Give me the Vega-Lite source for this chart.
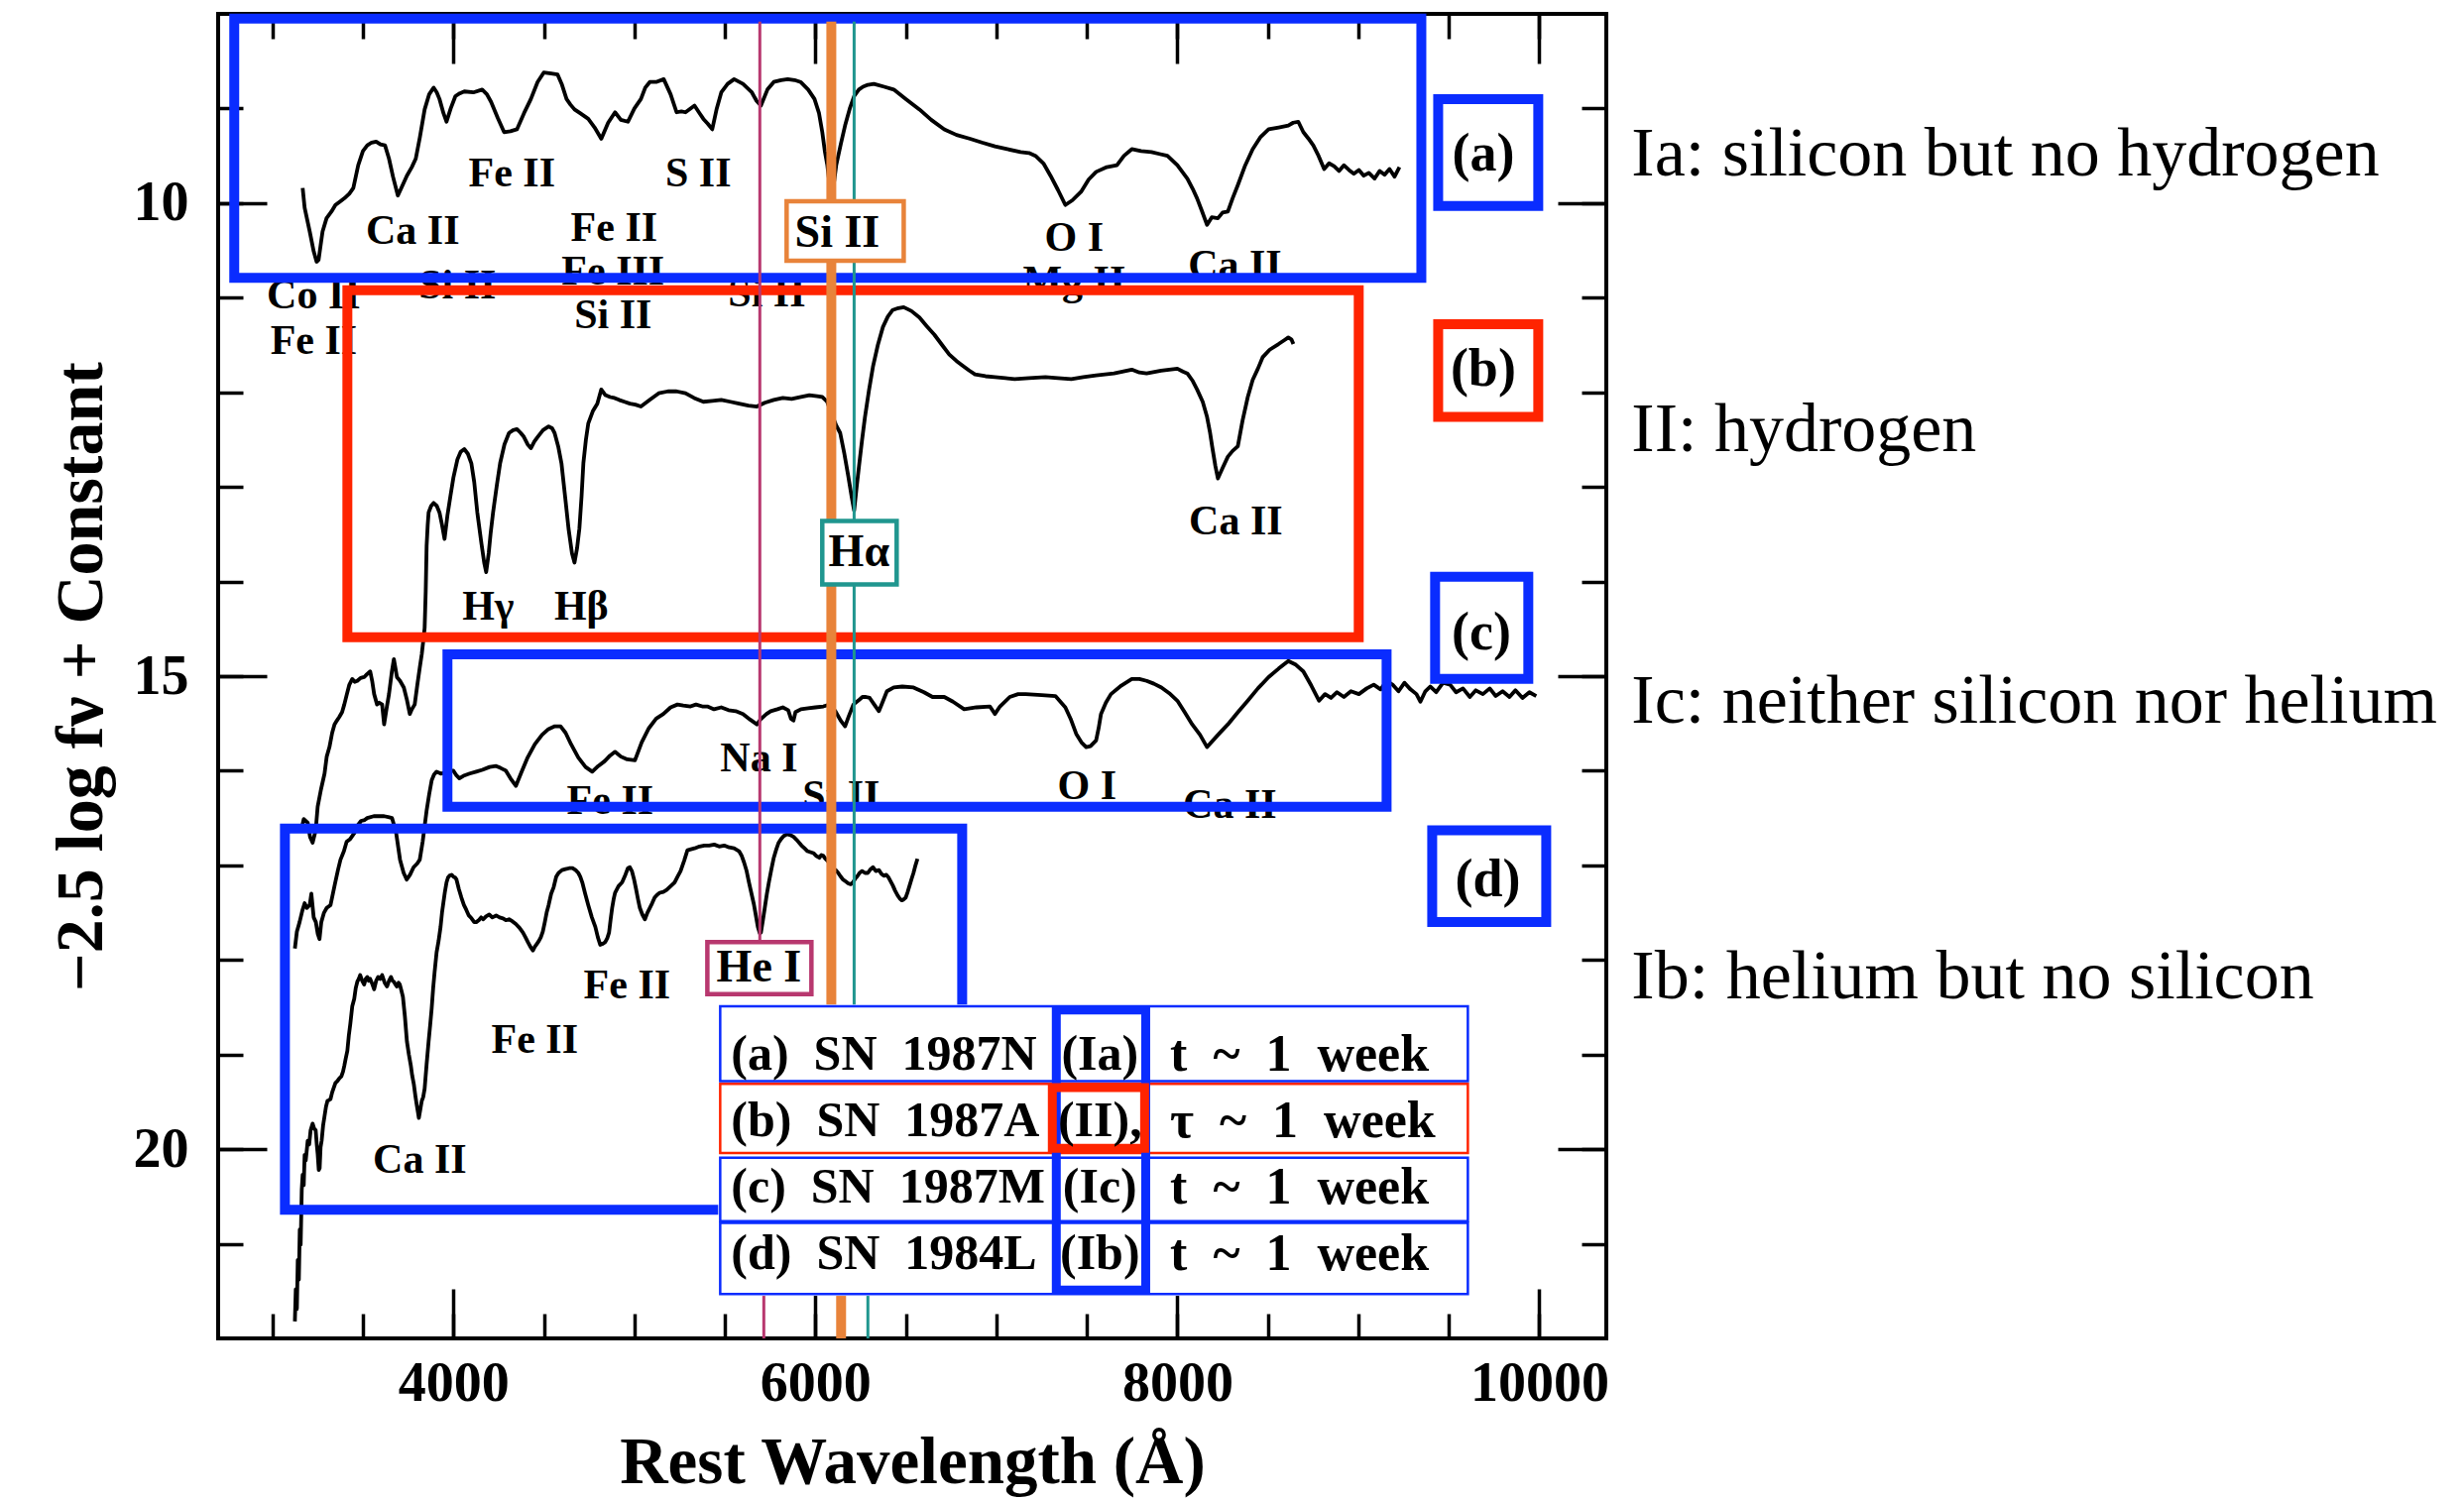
{
  "$schema": "https://vega.github.io/schema/vega-lite/v6.json",
  "width": 1400,
  "height": 1336,
  "autosize": {"type": "none"},
  "padding": {"left": 220, "top": 14, "right": 865, "bottom": 163},
  "background": "#ffffff",
  "config": {
    "view": {"stroke": "#000000", "strokeWidth": 4},
    "axis": {
      "grid": false, "domain": false, "tickColor": "#000000", "tickWidth": 3.5,
      "labelColor": "#000000", "titleColor": "#000000",
      "labelFont": "Liberation Serif", "titleFont": "Liberation Serif",
      "labelFontWeight": "bold", "titleFontWeight": "bold"
    },
    "text": {"font": "Liberation Serif"}
  },
  "resolve": {
    "axis": {"x": "independent", "y": "independent"},
    "scale": {"stroke": "independent", "color": "independent"}
  },
  "datasets": {
    "spectra": [
      {"sn":"a","wl":3167,"mag":9.84},{"sn":"a","wl":3178,"mag":10.05},{"sn":"a","wl":3206,"mag":10.30},{"sn":"a","wl":3228,"mag":10.51},{"sn":"a","wl":3244,"mag":10.62},{"sn":"a","wl":3255,"mag":10.60},{"sn":"a","wl":3266,"mag":10.45},{"sn":"a","wl":3277,"mag":10.30},{"sn":"a","wl":3299,"mag":10.16},{"sn":"a","wl":3326,"mag":10.09},{"sn":"a","wl":3348,"mag":10.02},{"sn":"a","wl":3376,"mag":9.98},{"sn":"a","wl":3397,"mag":9.95},{"sn":"a","wl":3425,"mag":9.90},{"sn":"a","wl":3447,"mag":9.84},{"sn":"a","wl":3474,"mag":9.60},{"sn":"a","wl":3500,"mag":9.45},{"sn":"a","wl":3524,"mag":9.39},{"sn":"a","wl":3548,"mag":9.36},{"sn":"a","wl":3573,"mag":9.35},{"sn":"a","wl":3597,"mag":9.38},{"sn":"a","wl":3622,"mag":9.39},{"sn":"a","wl":3644,"mag":9.53},{"sn":"a","wl":3666,"mag":9.72},{"sn":"a","wl":3693,"mag":9.92},{"sn":"a","wl":3710,"mag":9.85},{"sn":"a","wl":3743,"mag":9.71},{"sn":"a","wl":3770,"mag":9.62},{"sn":"a","wl":3792,"mag":9.53},{"sn":"a","wl":3815,"mag":9.30},{"sn":"a","wl":3841,"mag":9.01},{"sn":"a","wl":3866,"mag":8.85},{"sn":"a","wl":3891,"mag":8.78},{"sn":"a","wl":3908,"mag":8.83},{"sn":"a","wl":3923,"mag":8.90},{"sn":"a","wl":3945,"mag":9.05},{"sn":"a","wl":3962,"mag":9.14},{"sn":"a","wl":3985,"mag":9.00},{"sn":"a","wl":4011,"mag":8.87},{"sn":"a","wl":4035,"mag":8.84},{"sn":"a","wl":4060,"mag":8.82},{"sn":"a","wl":4110,"mag":8.83},{"sn":"a","wl":4159,"mag":8.80},{"sn":"a","wl":4185,"mag":8.85},{"sn":"a","wl":4208,"mag":8.93},{"sn":"a","wl":4245,"mag":9.10},{"sn":"a","wl":4280,"mag":9.25},{"sn":"a","wl":4315,"mag":9.24},{"sn":"a","wl":4351,"mag":9.22},{"sn":"a","wl":4390,"mag":9.05},{"sn":"a","wl":4428,"mag":8.90},{"sn":"a","wl":4465,"mag":8.72},{"sn":"a","wl":4499,"mag":8.62},{"sn":"a","wl":4540,"mag":8.63},{"sn":"a","wl":4575,"mag":8.64},{"sn":"a","wl":4600,"mag":8.75},{"sn":"a","wl":4625,"mag":8.90},{"sn":"a","wl":4647,"mag":8.96},{"sn":"a","wl":4669,"mag":9.01},{"sn":"a","wl":4700,"mag":9.05},{"sn":"a","wl":4745,"mag":9.11},{"sn":"a","wl":4780,"mag":9.20},{"sn":"a","wl":4817,"mag":9.32},{"sn":"a","wl":4855,"mag":9.15},{"sn":"a","wl":4893,"mag":9.04},{"sn":"a","wl":4925,"mag":9.12},{"sn":"a","wl":4964,"mag":9.14},{"sn":"a","wl":5000,"mag":9.00},{"sn":"a","wl":5036,"mag":8.90},{"sn":"a","wl":5060,"mag":8.78},{"sn":"a","wl":5085,"mag":8.72},{"sn":"a","wl":5120,"mag":8.72},{"sn":"a","wl":5162,"mag":8.69},{"sn":"a","wl":5200,"mag":8.85},{"sn":"a","wl":5233,"mag":9.04},{"sn":"a","wl":5260,"mag":9.03},{"sn":"a","wl":5282,"mag":9.04},{"sn":"a","wl":5310,"mag":9.00},{"sn":"a","wl":5332,"mag":8.97},{"sn":"a","wl":5360,"mag":9.05},{"sn":"a","wl":5381,"mag":9.11},{"sn":"a","wl":5405,"mag":9.16},{"sn":"a","wl":5430,"mag":9.22},{"sn":"a","wl":5455,"mag":9.00},{"sn":"a","wl":5480,"mag":8.83},{"sn":"a","wl":5515,"mag":8.74},{"sn":"a","wl":5551,"mag":8.69},{"sn":"a","wl":5600,"mag":8.74},{"sn":"a","wl":5649,"mag":8.83},{"sn":"a","wl":5675,"mag":8.92},{"sn":"a","wl":5699,"mag":8.97},{"sn":"a","wl":5735,"mag":8.80},{"sn":"a","wl":5770,"mag":8.72},{"sn":"a","wl":5810,"mag":8.70},{"sn":"a","wl":5847,"mag":8.69},{"sn":"a","wl":5885,"mag":8.70},{"sn":"a","wl":5918,"mag":8.72},{"sn":"a","wl":5960,"mag":8.80},{"sn":"a","wl":5995,"mag":8.90},{"sn":"a","wl":6020,"mag":9.05},{"sn":"a","wl":6038,"mag":9.25},{"sn":"a","wl":6052,"mag":9.45},{"sn":"a","wl":6066,"mag":9.60},{"sn":"a","wl":6078,"mag":9.80},{"sn":"a","wl":6088,"mag":9.92},{"sn":"a","wl":6100,"mag":9.82},{"sn":"a","wl":6115,"mag":9.60},{"sn":"a","wl":6140,"mag":9.38},{"sn":"a","wl":6164,"mag":9.18},{"sn":"a","wl":6190,"mag":9.00},{"sn":"a","wl":6214,"mag":8.87},{"sn":"a","wl":6240,"mag":8.80},{"sn":"a","wl":6263,"mag":8.77},{"sn":"a","wl":6290,"mag":8.75},{"sn":"a","wl":6323,"mag":8.74},{"sn":"a","wl":6380,"mag":8.77},{"sn":"a","wl":6433,"mag":8.80},{"sn":"a","wl":6500,"mag":8.90},{"sn":"a","wl":6575,"mag":9.01},{"sn":"a","wl":6640,"mag":9.12},{"sn":"a","wl":6712,"mag":9.22},{"sn":"a","wl":6780,"mag":9.28},{"sn":"a","wl":6855,"mag":9.32},{"sn":"a","wl":6920,"mag":9.36},{"sn":"a","wl":6992,"mag":9.40},{"sn":"a","wl":7060,"mag":9.43},{"sn":"a","wl":7134,"mag":9.46},{"sn":"a","wl":7180,"mag":9.47},{"sn":"a","wl":7216,"mag":9.50},{"sn":"a","wl":7260,"mag":9.58},{"sn":"a","wl":7299,"mag":9.71},{"sn":"a","wl":7340,"mag":9.86},{"sn":"a","wl":7381,"mag":10.02},{"sn":"a","wl":7420,"mag":9.97},{"sn":"a","wl":7468,"mag":9.88},{"sn":"a","wl":7510,"mag":9.75},{"sn":"a","wl":7551,"mag":9.67},{"sn":"a","wl":7610,"mag":9.62},{"sn":"a","wl":7666,"mag":9.60},{"sn":"a","wl":7705,"mag":9.50},{"sn":"a","wl":7748,"mag":9.43},{"sn":"a","wl":7800,"mag":9.45},{"sn":"a","wl":7857,"mag":9.46},{"sn":"a","wl":7900,"mag":9.48},{"sn":"a","wl":7945,"mag":9.50},{"sn":"a","wl":8000,"mag":9.60},{"sn":"a","wl":8055,"mag":9.74},{"sn":"a","wl":8085,"mag":9.85},{"sn":"a","wl":8109,"mag":9.95},{"sn":"a","wl":8135,"mag":10.08},{"sn":"a","wl":8164,"mag":10.23},{"sn":"a","wl":8190,"mag":10.15},{"sn":"a","wl":8224,"mag":10.16},{"sn":"a","wl":8250,"mag":10.10},{"sn":"a","wl":8279,"mag":10.09},{"sn":"a","wl":8305,"mag":9.95},{"sn":"a","wl":8334,"mag":9.81},{"sn":"a","wl":8375,"mag":9.60},{"sn":"a","wl":8416,"mag":9.43},{"sn":"a","wl":8460,"mag":9.30},{"sn":"a","wl":8504,"mag":9.22},{"sn":"a","wl":8560,"mag":9.20},{"sn":"a","wl":8613,"mag":9.18},{"sn":"a","wl":8640,"mag":9.15},{"sn":"a","wl":8668,"mag":9.14},{"sn":"a","wl":8696,"mag":9.25},{"sn":"a","wl":8725,"mag":9.32},{"sn":"a","wl":8751,"mag":9.39},{"sn":"a","wl":8780,"mag":9.50},{"sn":"a","wl":8811,"mag":9.64},{"sn":"a","wl":8838,"mag":9.58},{"sn":"a","wl":8866,"mag":9.61},{"sn":"a","wl":8893,"mag":9.66},{"sn":"a","wl":8920,"mag":9.60},{"sn":"a","wl":8948,"mag":9.65},{"sn":"a","wl":8975,"mag":9.69},{"sn":"a","wl":9003,"mag":9.65},{"sn":"a","wl":9030,"mag":9.71},{"sn":"a","wl":9058,"mag":9.68},{"sn":"a","wl":9090,"mag":9.74},{"sn":"a","wl":9118,"mag":9.66},{"sn":"a","wl":9145,"mag":9.70},{"sn":"a","wl":9172,"mag":9.64},{"sn":"a","wl":9200,"mag":9.72},{"sn":"a","wl":9227,"mag":9.62},

      {"sn":"b","wl":3160,"mag":16.62},{"sn":"b","wl":3173,"mag":16.51},{"sn":"b","wl":3195,"mag":16.55},{"sn":"b","wl":3208,"mag":16.70},{"sn":"b","wl":3222,"mag":16.76},{"sn":"b","wl":3239,"mag":16.63},{"sn":"b","wl":3250,"mag":16.38},{"sn":"b","wl":3268,"mag":16.20},{"sn":"b","wl":3288,"mag":16.03},{"sn":"b","wl":3300,"mag":15.85},{"sn":"b","wl":3315,"mag":15.75},{"sn":"b","wl":3330,"mag":15.60},{"sn":"b","wl":3343,"mag":15.51},{"sn":"b","wl":3356,"mag":15.47},{"sn":"b","wl":3370,"mag":15.43},{"sn":"b","wl":3385,"mag":15.38},{"sn":"b","wl":3397,"mag":15.30},{"sn":"b","wl":3410,"mag":15.20},{"sn":"b","wl":3425,"mag":15.09},{"sn":"b","wl":3441,"mag":15.03},{"sn":"b","wl":3455,"mag":15.06},{"sn":"b","wl":3469,"mag":15.05},{"sn":"b","wl":3487,"mag":15.02},{"sn":"b","wl":3507,"mag":15.01},{"sn":"b","wl":3522,"mag":14.98},{"sn":"b","wl":3540,"mag":14.95},{"sn":"b","wl":3551,"mag":15.05},{"sn":"b","wl":3562,"mag":15.19},{"sn":"b","wl":3578,"mag":15.30},{"sn":"b","wl":3590,"mag":15.28},{"sn":"b","wl":3606,"mag":15.30},{"sn":"b","wl":3617,"mag":15.51},{"sn":"b","wl":3630,"mag":15.35},{"sn":"b","wl":3644,"mag":15.19},{"sn":"b","wl":3660,"mag":14.95},{"sn":"b","wl":3671,"mag":14.82},{"sn":"b","wl":3680,"mag":14.92},{"sn":"b","wl":3688,"mag":15.01},{"sn":"b","wl":3705,"mag":15.05},{"sn":"b","wl":3726,"mag":15.12},{"sn":"b","wl":3743,"mag":15.25},{"sn":"b","wl":3759,"mag":15.40},{"sn":"b","wl":3770,"mag":15.35},{"sn":"b","wl":3786,"mag":15.30},{"sn":"b","wl":3800,"mag":15.10},{"sn":"b","wl":3814,"mag":14.91},{"sn":"b","wl":3825,"mag":14.77},{"sn":"b","wl":3835,"mag":14.60},{"sn":"b","wl":3841,"mag":14.49},{"sn":"b","wl":3847,"mag":14.10},{"sn":"b","wl":3852,"mag":13.62},{"sn":"b","wl":3858,"mag":13.40},{"sn":"b","wl":3863,"mag":13.27},{"sn":"b","wl":3877,"mag":13.20},{"sn":"b","wl":3891,"mag":13.17},{"sn":"b","wl":3908,"mag":13.20},{"sn":"b","wl":3923,"mag":13.27},{"sn":"b","wl":3937,"mag":13.40},{"sn":"b","wl":3951,"mag":13.55},{"sn":"b","wl":3967,"mag":13.30},{"sn":"b","wl":3984,"mag":13.09},{"sn":"b","wl":4000,"mag":12.90},{"sn":"b","wl":4022,"mag":12.71},{"sn":"b","wl":4040,"mag":12.63},{"sn":"b","wl":4060,"mag":12.60},{"sn":"b","wl":4080,"mag":12.65},{"sn":"b","wl":4099,"mag":12.75},{"sn":"b","wl":4115,"mag":12.95},{"sn":"b","wl":4132,"mag":13.27},{"sn":"b","wl":4155,"mag":13.60},{"sn":"b","wl":4170,"mag":13.80},{"sn":"b","wl":4181,"mag":13.90},{"sn":"b","wl":4195,"mag":13.70},{"sn":"b","wl":4205,"mag":13.50},{"sn":"b","wl":4219,"mag":13.27},{"sn":"b","wl":4240,"mag":12.98},{"sn":"b","wl":4258,"mag":12.75},{"sn":"b","wl":4282,"mag":12.55},{"sn":"b","wl":4307,"mag":12.43},{"sn":"b","wl":4330,"mag":12.40},{"sn":"b","wl":4351,"mag":12.39},{"sn":"b","wl":4372,"mag":12.43},{"sn":"b","wl":4389,"mag":12.47},{"sn":"b","wl":4410,"mag":12.55},{"sn":"b","wl":4428,"mag":12.59},{"sn":"b","wl":4447,"mag":12.52},{"sn":"b","wl":4466,"mag":12.47},{"sn":"b","wl":4495,"mag":12.40},{"sn":"b","wl":4526,"mag":12.36},{"sn":"b","wl":4545,"mag":12.38},{"sn":"b","wl":4559,"mag":12.43},{"sn":"b","wl":4580,"mag":12.58},{"sn":"b","wl":4597,"mag":12.75},{"sn":"b","wl":4617,"mag":13.10},{"sn":"b","wl":4636,"mag":13.44},{"sn":"b","wl":4655,"mag":13.70},{"sn":"b","wl":4669,"mag":13.80},{"sn":"b","wl":4683,"mag":13.65},{"sn":"b","wl":4696,"mag":13.44},{"sn":"b","wl":4708,"mag":13.10},{"sn":"b","wl":4718,"mag":12.75},{"sn":"b","wl":4732,"mag":12.50},{"sn":"b","wl":4745,"mag":12.33},{"sn":"b","wl":4770,"mag":12.20},{"sn":"b","wl":4795,"mag":12.12},{"sn":"b","wl":4817,"mag":11.97},{"sn":"b","wl":4840,"mag":12.03},{"sn":"b","wl":4866,"mag":12.05},{"sn":"b","wl":4890,"mag":12.06},{"sn":"b","wl":4915,"mag":12.08},{"sn":"b","wl":4945,"mag":12.10},{"sn":"b","wl":4975,"mag":12.12},{"sn":"b","wl":5005,"mag":12.13},{"sn":"b","wl":5036,"mag":12.15},{"sn":"b","wl":5085,"mag":12.08},{"sn":"b","wl":5134,"mag":12.01},{"sn":"b","wl":5185,"mag":11.99},{"sn":"b","wl":5233,"mag":11.99},{"sn":"b","wl":5282,"mag":12.01},{"sn":"b","wl":5330,"mag":12.06},{"sn":"b","wl":5381,"mag":12.10},{"sn":"b","wl":5430,"mag":12.09},{"sn":"b","wl":5480,"mag":12.08},{"sn":"b","wl":5530,"mag":12.10},{"sn":"b","wl":5578,"mag":12.12},{"sn":"b","wl":5630,"mag":12.14},{"sn":"b","wl":5677,"mag":12.15},{"sn":"b","wl":5720,"mag":12.11},{"sn":"b","wl":5770,"mag":12.08},{"sn":"b","wl":5820,"mag":12.06},{"sn":"b","wl":5869,"mag":12.07},{"sn":"b","wl":5920,"mag":12.05},{"sn":"b","wl":5967,"mag":12.03},{"sn":"b","wl":6010,"mag":12.04},{"sn":"b","wl":6038,"mag":12.05},{"sn":"b","wl":6065,"mag":12.10},{"sn":"b","wl":6088,"mag":12.22},{"sn":"b","wl":6115,"mag":12.35},{"sn":"b","wl":6137,"mag":12.43},{"sn":"b","wl":6160,"mag":12.65},{"sn":"b","wl":6181,"mag":12.88},{"sn":"b","wl":6200,"mag":13.10},{"sn":"b","wl":6214,"mag":13.25},{"sn":"b","wl":6228,"mag":13.00},{"sn":"b","wl":6241,"mag":12.78},{"sn":"b","wl":6258,"mag":12.50},{"sn":"b","wl":6274,"mag":12.26},{"sn":"b","wl":6296,"mag":11.98},{"sn":"b","wl":6318,"mag":11.73},{"sn":"b","wl":6345,"mag":11.50},{"sn":"b","wl":6373,"mag":11.31},{"sn":"b","wl":6400,"mag":11.20},{"sn":"b","wl":6427,"mag":11.13},{"sn":"b","wl":6458,"mag":11.11},{"sn":"b","wl":6488,"mag":11.10},{"sn":"b","wl":6530,"mag":11.14},{"sn":"b","wl":6575,"mag":11.21},{"sn":"b","wl":6615,"mag":11.30},{"sn":"b","wl":6657,"mag":11.39},{"sn":"b","wl":6700,"mag":11.50},{"sn":"b","wl":6740,"mag":11.60},{"sn":"b","wl":6780,"mag":11.67},{"sn":"b","wl":6822,"mag":11.73},{"sn":"b","wl":6850,"mag":11.77},{"sn":"b","wl":6882,"mag":11.81},{"sn":"b","wl":6940,"mag":11.83},{"sn":"b","wl":6992,"mag":11.84},{"sn":"b","wl":7050,"mag":11.85},{"sn":"b","wl":7101,"mag":11.86},{"sn":"b","wl":7180,"mag":11.85},{"sn":"b","wl":7271,"mag":11.84},{"sn":"b","wl":7340,"mag":11.85},{"sn":"b","wl":7414,"mag":11.86},{"sn":"b","wl":7480,"mag":11.84},{"sn":"b","wl":7551,"mag":11.82},{"sn":"b","wl":7650,"mag":11.80},{"sn":"b","wl":7748,"mag":11.76},{"sn":"b","wl":7790,"mag":11.79},{"sn":"b","wl":7830,"mag":11.80},{"sn":"b","wl":7910,"mag":11.77},{"sn":"b","wl":8000,"mag":11.75},{"sn":"b","wl":8030,"mag":11.78},{"sn":"b","wl":8055,"mag":11.80},{"sn":"b","wl":8085,"mag":11.88},{"sn":"b","wl":8109,"mag":11.97},{"sn":"b","wl":8140,"mag":12.10},{"sn":"b","wl":8164,"mag":12.26},{"sn":"b","wl":8180,"mag":12.42},{"sn":"b","wl":8192,"mag":12.57},{"sn":"b","wl":8210,"mag":12.78},{"sn":"b","wl":8224,"mag":12.91},{"sn":"b","wl":8250,"mag":12.80},{"sn":"b","wl":8279,"mag":12.68},{"sn":"b","wl":8305,"mag":12.62},{"sn":"b","wl":8334,"mag":12.57},{"sn":"b","wl":8360,"mag":12.30},{"sn":"b","wl":8389,"mag":12.05},{"sn":"b","wl":8416,"mag":11.87},{"sn":"b","wl":8445,"mag":11.75},{"sn":"b","wl":8471,"mag":11.63},{"sn":"b","wl":8510,"mag":11.55},{"sn":"b","wl":8559,"mag":11.49},{"sn":"b","wl":8590,"mag":11.45},{"sn":"b","wl":8613,"mag":11.42},{"sn":"b","wl":8630,"mag":11.44},{"sn":"b","wl":8641,"mag":11.49},

      {"sn":"c","wl":3124,"mag":17.88},{"sn":"c","wl":3135,"mag":17.70},{"sn":"c","wl":3150,"mag":17.60},{"sn":"c","wl":3165,"mag":17.48},{"sn":"c","wl":3178,"mag":17.40},{"sn":"c","wl":3190,"mag":17.45},{"sn":"c","wl":3206,"mag":17.42},{"sn":"c","wl":3215,"mag":17.30},{"sn":"c","wl":3228,"mag":17.55},{"sn":"c","wl":3240,"mag":17.60},{"sn":"c","wl":3250,"mag":17.72},{"sn":"c","wl":3260,"mag":17.78},{"sn":"c","wl":3270,"mag":17.60},{"sn":"c","wl":3285,"mag":17.50},{"sn":"c","wl":3300,"mag":17.45},{"sn":"c","wl":3321,"mag":17.42},{"sn":"c","wl":3345,"mag":17.20},{"sn":"c","wl":3362,"mag":17.05},{"sn":"c","wl":3376,"mag":16.94},{"sn":"c","wl":3395,"mag":16.85},{"sn":"c","wl":3410,"mag":16.75},{"sn":"c","wl":3430,"mag":16.72},{"sn":"c","wl":3452,"mag":16.66},{"sn":"c","wl":3470,"mag":16.58},{"sn":"c","wl":3490,"mag":16.53},{"sn":"c","wl":3510,"mag":16.52},{"sn":"c","wl":3524,"mag":16.50},{"sn":"c","wl":3560,"mag":16.48},{"sn":"c","wl":3590,"mag":16.48},{"sn":"c","wl":3617,"mag":16.48},{"sn":"c","wl":3640,"mag":16.49},{"sn":"c","wl":3661,"mag":16.50},{"sn":"c","wl":3683,"mag":16.65},{"sn":"c","wl":3705,"mag":16.94},{"sn":"c","wl":3725,"mag":17.08},{"sn":"c","wl":3742,"mag":17.15},{"sn":"c","wl":3760,"mag":17.10},{"sn":"c","wl":3780,"mag":17.02},{"sn":"c","wl":3800,"mag":16.98},{"sn":"c","wl":3814,"mag":16.94},{"sn":"c","wl":3830,"mag":16.75},{"sn":"c","wl":3852,"mag":16.42},{"sn":"c","wl":3866,"mag":16.25},{"sn":"c","wl":3880,"mag":16.10},{"sn":"c","wl":3893,"mag":16.04},{"sn":"c","wl":3907,"mag":16.01},{"sn":"c","wl":3930,"mag":16.03},{"sn":"c","wl":3955,"mag":16.02},{"sn":"c","wl":3975,"mag":16.00},{"sn":"c","wl":4000,"mag":16.00},{"sn":"c","wl":4017,"mag":16.05},{"sn":"c","wl":4033,"mag":16.08},{"sn":"c","wl":4060,"mag":16.05},{"sn":"c","wl":4090,"mag":16.03},{"sn":"c","wl":4126,"mag":16.01},{"sn":"c","wl":4160,"mag":15.99},{"sn":"c","wl":4200,"mag":15.96},{"sn":"c","wl":4236,"mag":15.95},{"sn":"c","wl":4260,"mag":15.97},{"sn":"c","wl":4290,"mag":16.00},{"sn":"c","wl":4315,"mag":16.08},{"sn":"c","wl":4345,"mag":16.16},{"sn":"c","wl":4375,"mag":16.02},{"sn":"c","wl":4410,"mag":15.86},{"sn":"c","wl":4450,"mag":15.72},{"sn":"c","wl":4490,"mag":15.62},{"sn":"c","wl":4525,"mag":15.56},{"sn":"c","wl":4560,"mag":15.53},{"sn":"c","wl":4592,"mag":15.53},{"sn":"c","wl":4620,"mag":15.60},{"sn":"c","wl":4650,"mag":15.72},{"sn":"c","wl":4690,"mag":15.86},{"sn":"c","wl":4730,"mag":15.96},{"sn":"c","wl":4767,"mag":16.01},{"sn":"c","wl":4800,"mag":15.95},{"sn":"c","wl":4835,"mag":15.90},{"sn":"c","wl":4865,"mag":15.84},{"sn":"c","wl":4893,"mag":15.80},{"sn":"c","wl":4925,"mag":15.85},{"sn":"c","wl":4960,"mag":15.88},{"sn":"c","wl":5003,"mag":15.89},{"sn":"c","wl":5040,"mag":15.70},{"sn":"c","wl":5080,"mag":15.55},{"sn":"c","wl":5120,"mag":15.45},{"sn":"c","wl":5160,"mag":15.40},{"sn":"c","wl":5200,"mag":15.33},{"sn":"c","wl":5238,"mag":15.30},{"sn":"c","wl":5270,"mag":15.31},{"sn":"c","wl":5310,"mag":15.32},{"sn":"c","wl":5340,"mag":15.30},{"sn":"c","wl":5375,"mag":15.32},{"sn":"c","wl":5403,"mag":15.32},{"sn":"c","wl":5440,"mag":15.35},{"sn":"c","wl":5480,"mag":15.33},{"sn":"c","wl":5520,"mag":15.36},{"sn":"c","wl":5560,"mag":15.37},{"sn":"c","wl":5600,"mag":15.40},{"sn":"c","wl":5640,"mag":15.46},{"sn":"c","wl":5677,"mag":15.51},{"sn":"c","wl":5700,"mag":15.45},{"sn":"c","wl":5730,"mag":15.40},{"sn":"c","wl":5753,"mag":15.37},{"sn":"c","wl":5790,"mag":15.35},{"sn":"c","wl":5820,"mag":15.33},{"sn":"c","wl":5850,"mag":15.36},{"sn":"c","wl":5865,"mag":15.45},{"sn":"c","wl":5879,"mag":15.47},{"sn":"c","wl":5890,"mag":15.38},{"sn":"c","wl":5920,"mag":15.35},{"sn":"c","wl":5960,"mag":15.34},{"sn":"c","wl":6000,"mag":15.33},{"sn":"c","wl":6044,"mag":15.32},{"sn":"c","wl":6080,"mag":15.30},{"sn":"c","wl":6110,"mag":15.37},{"sn":"c","wl":6140,"mag":15.47},{"sn":"c","wl":6164,"mag":15.53},{"sn":"c","wl":6185,"mag":15.42},{"sn":"c","wl":6210,"mag":15.30},{"sn":"c","wl":6236,"mag":15.26},{"sn":"c","wl":6260,"mag":15.22},{"sn":"c","wl":6279,"mag":15.22},{"sn":"c","wl":6300,"mag":15.23},{"sn":"c","wl":6325,"mag":15.30},{"sn":"c","wl":6351,"mag":15.37},{"sn":"c","wl":6370,"mag":15.28},{"sn":"c","wl":6395,"mag":15.16},{"sn":"c","wl":6433,"mag":15.12},{"sn":"c","wl":6480,"mag":15.11},{"sn":"c","wl":6542,"mag":15.12},{"sn":"c","wl":6600,"mag":15.17},{"sn":"c","wl":6647,"mag":15.22},{"sn":"c","wl":6712,"mag":15.22},{"sn":"c","wl":6760,"mag":15.27},{"sn":"c","wl":6822,"mag":15.35},{"sn":"c","wl":6890,"mag":15.33},{"sn":"c","wl":6964,"mag":15.32},{"sn":"c","wl":6992,"mag":15.40},{"sn":"c","wl":7020,"mag":15.32},{"sn":"c","wl":7074,"mag":15.22},{"sn":"c","wl":7120,"mag":15.19},{"sn":"c","wl":7162,"mag":15.19},{"sn":"c","wl":7250,"mag":15.20},{"sn":"c","wl":7326,"mag":15.21},{"sn":"c","wl":7381,"mag":15.33},{"sn":"c","wl":7410,"mag":15.45},{"sn":"c","wl":7441,"mag":15.61},{"sn":"c","wl":7470,"mag":15.70},{"sn":"c","wl":7496,"mag":15.75},{"sn":"c","wl":7520,"mag":15.74},{"sn":"c","wl":7551,"mag":15.68},{"sn":"c","wl":7565,"mag":15.55},{"sn":"c","wl":7578,"mag":15.40},{"sn":"c","wl":7605,"mag":15.28},{"sn":"c","wl":7633,"mag":15.19},{"sn":"c","wl":7690,"mag":15.10},{"sn":"c","wl":7748,"mag":15.03},{"sn":"c","wl":7790,"mag":15.03},{"sn":"c","wl":7830,"mag":15.05},{"sn":"c","wl":7870,"mag":15.08},{"sn":"c","wl":7912,"mag":15.12},{"sn":"c","wl":7955,"mag":15.18},{"sn":"c","wl":8000,"mag":15.26},{"sn":"c","wl":8040,"mag":15.38},{"sn":"c","wl":8082,"mag":15.51},{"sn":"c","wl":8125,"mag":15.62},{"sn":"c","wl":8164,"mag":15.75},{"sn":"c","wl":8220,"mag":15.63},{"sn":"c","wl":8279,"mag":15.51},{"sn":"c","wl":8335,"mag":15.38},{"sn":"c","wl":8389,"mag":15.26},{"sn":"c","wl":8445,"mag":15.13},{"sn":"c","wl":8504,"mag":15.01},{"sn":"c","wl":8560,"mag":14.92},{"sn":"c","wl":8613,"mag":14.84},{"sn":"c","wl":8655,"mag":14.88},{"sn":"c","wl":8696,"mag":14.95},{"sn":"c","wl":8740,"mag":15.10},{"sn":"c","wl":8783,"mag":15.26},{"sn":"c","wl":8816,"mag":15.19},{"sn":"c","wl":8849,"mag":15.23},{"sn":"c","wl":8882,"mag":15.17},{"sn":"c","wl":8920,"mag":15.22},{"sn":"c","wl":8959,"mag":15.16},{"sn":"c","wl":9003,"mag":15.19},{"sn":"c","wl":9046,"mag":15.13},{"sn":"c","wl":9085,"mag":15.09},{"sn":"c","wl":9123,"mag":15.14},{"sn":"c","wl":9156,"mag":15.05},{"sn":"c","wl":9189,"mag":15.09},{"sn":"c","wl":9222,"mag":15.16},{"sn":"c","wl":9255,"mag":15.07},{"sn":"c","wl":9288,"mag":15.14},{"sn":"c","wl":9321,"mag":15.19},{"sn":"c","wl":9343,"mag":15.27},{"sn":"c","wl":9370,"mag":15.16},{"sn":"c","wl":9397,"mag":15.11},{"sn":"c","wl":9430,"mag":15.17},{"sn":"c","wl":9468,"mag":15.07},{"sn":"c","wl":9507,"mag":15.09},{"sn":"c","wl":9540,"mag":15.17},{"sn":"c","wl":9578,"mag":15.13},{"sn":"c","wl":9616,"mag":15.22},{"sn":"c","wl":9649,"mag":15.15},{"sn":"c","wl":9688,"mag":15.19},{"sn":"c","wl":9726,"mag":15.13},{"sn":"c","wl":9759,"mag":15.21},{"sn":"c","wl":9797,"mag":15.16},{"sn":"c","wl":9835,"mag":15.22},{"sn":"c","wl":9868,"mag":15.15},{"sn":"c","wl":9907,"mag":15.23},{"sn":"c","wl":9945,"mag":15.17},{"sn":"c","wl":9983,"mag":15.21},

      {"sn":"d","wl":3124,"mag":21.82},{"sn":"d","wl":3129,"mag":21.48},{"sn":"d","wl":3135,"mag":21.69},{"sn":"d","wl":3140,"mag":21.17},{"sn":"d","wl":3146,"mag":21.38},{"sn":"d","wl":3151,"mag":20.85},{"sn":"d","wl":3156,"mag":21.01},{"sn":"d","wl":3162,"mag":20.43},{"sn":"d","wl":3167,"mag":20.27},{"sn":"d","wl":3173,"mag":20.38},{"sn":"d","wl":3178,"mag":20.06},{"sn":"d","wl":3184,"mag":20.12},{"sn":"d","wl":3195,"mag":19.91},{"sn":"d","wl":3203,"mag":19.95},{"sn":"d","wl":3211,"mag":19.80},{"sn":"d","wl":3222,"mag":19.73},{"sn":"d","wl":3230,"mag":19.78},{"sn":"d","wl":3239,"mag":19.80},{"sn":"d","wl":3245,"mag":19.95},{"sn":"d","wl":3250,"mag":20.05},{"sn":"d","wl":3256,"mag":20.22},{"sn":"d","wl":3261,"mag":20.20},{"sn":"d","wl":3266,"mag":19.98},{"sn":"d","wl":3272,"mag":19.91},{"sn":"d","wl":3280,"mag":19.75},{"sn":"d","wl":3288,"mag":19.65},{"sn":"d","wl":3296,"mag":19.55},{"sn":"d","wl":3304,"mag":19.49},{"sn":"d","wl":3313,"mag":19.48},{"sn":"d","wl":3321,"mag":19.47},{"sn":"d","wl":3330,"mag":19.40},{"sn":"d","wl":3337,"mag":19.36},{"sn":"d","wl":3348,"mag":19.30},{"sn":"d","wl":3359,"mag":19.28},{"sn":"d","wl":3370,"mag":19.25},{"sn":"d","wl":3381,"mag":19.23},{"sn":"d","wl":3390,"mag":19.18},{"sn":"d","wl":3397,"mag":19.12},{"sn":"d","wl":3405,"mag":19.04},{"sn":"d","wl":3414,"mag":18.96},{"sn":"d","wl":3422,"mag":18.80},{"sn":"d","wl":3430,"mag":18.68},{"sn":"d","wl":3441,"mag":18.49},{"sn":"d","wl":3452,"mag":18.41},{"sn":"d","wl":3460,"mag":18.30},{"sn":"d","wl":3469,"mag":18.23},{"sn":"d","wl":3477,"mag":18.20},{"sn":"d","wl":3485,"mag":18.16},{"sn":"d","wl":3496,"mag":18.22},{"sn":"d","wl":3507,"mag":18.26},{"sn":"d","wl":3515,"mag":18.20},{"sn":"d","wl":3524,"mag":18.18},{"sn":"d","wl":3532,"mag":18.22},{"sn":"d","wl":3540,"mag":18.20},{"sn":"d","wl":3551,"mag":18.25},{"sn":"d","wl":3562,"mag":18.31},{"sn":"d","wl":3573,"mag":18.22},{"sn":"d","wl":3584,"mag":18.18},{"sn":"d","wl":3595,"mag":18.20},{"sn":"d","wl":3606,"mag":18.16},{"sn":"d","wl":3620,"mag":18.24},{"sn":"d","wl":3633,"mag":18.28},{"sn":"d","wl":3644,"mag":18.22},{"sn":"d","wl":3655,"mag":18.18},{"sn":"d","wl":3663,"mag":18.22},{"sn":"d","wl":3671,"mag":18.23},{"sn":"d","wl":3680,"mag":18.26},{"sn":"d","wl":3688,"mag":18.28},{"sn":"d","wl":3697,"mag":18.24},{"sn":"d","wl":3704,"mag":18.26},{"sn":"d","wl":3712,"mag":18.32},{"sn":"d","wl":3721,"mag":18.39},{"sn":"d","wl":3732,"mag":18.60},{"sn":"d","wl":3743,"mag":18.86},{"sn":"d","wl":3754,"mag":19.00},{"sn":"d","wl":3765,"mag":19.12},{"sn":"d","wl":3772,"mag":19.22},{"sn":"d","wl":3781,"mag":19.31},{"sn":"d","wl":3790,"mag":19.44},{"sn":"d","wl":3798,"mag":19.54},{"sn":"d","wl":3805,"mag":19.62},{"sn":"d","wl":3809,"mag":19.67},{"sn":"d","wl":3817,"mag":19.58},{"sn":"d","wl":3825,"mag":19.49},{"sn":"d","wl":3833,"mag":19.45},{"sn":"d","wl":3841,"mag":19.36},{"sn":"d","wl":3852,"mag":19.10},{"sn":"d","wl":3863,"mag":18.86},{"sn":"d","wl":3872,"mag":18.68},{"sn":"d","wl":3880,"mag":18.51},{"sn":"d","wl":3888,"mag":18.30},{"sn":"d","wl":3896,"mag":18.13},{"sn":"d","wl":3907,"mag":17.92},{"sn":"d","wl":3918,"mag":17.80},{"sn":"d","wl":3929,"mag":17.65},{"sn":"d","wl":3937,"mag":17.50},{"sn":"d","wl":3945,"mag":17.39},{"sn":"d","wl":3953,"mag":17.28},{"sn":"d","wl":3962,"mag":17.18},{"sn":"d","wl":3970,"mag":17.13},{"sn":"d","wl":3978,"mag":17.11},{"sn":"d","wl":3990,"mag":17.10},{"sn":"d","wl":4000,"mag":17.12},{"sn":"d","wl":4010,"mag":17.13},{"sn":"d","wl":4017,"mag":17.15},{"sn":"d","wl":4030,"mag":17.25},{"sn":"d","wl":4044,"mag":17.34},{"sn":"d","wl":4058,"mag":17.42},{"sn":"d","wl":4071,"mag":17.47},{"sn":"d","wl":4085,"mag":17.53},{"sn":"d","wl":4100,"mag":17.56},{"sn":"d","wl":4115,"mag":17.60},{"sn":"d","wl":4126,"mag":17.60},{"sn":"d","wl":4140,"mag":17.58},{"sn":"d","wl":4153,"mag":17.55},{"sn":"d","wl":4165,"mag":17.57},{"sn":"d","wl":4180,"mag":17.54},{"sn":"d","wl":4198,"mag":17.52},{"sn":"d","wl":4215,"mag":17.55},{"sn":"d","wl":4236,"mag":17.53},{"sn":"d","wl":4255,"mag":17.55},{"sn":"d","wl":4274,"mag":17.56},{"sn":"d","wl":4290,"mag":17.58},{"sn":"d","wl":4307,"mag":17.57},{"sn":"d","wl":4325,"mag":17.59},{"sn":"d","wl":4345,"mag":17.62},{"sn":"d","wl":4365,"mag":17.66},{"sn":"d","wl":4384,"mag":17.71},{"sn":"d","wl":4398,"mag":17.76},{"sn":"d","wl":4411,"mag":17.81},{"sn":"d","wl":4425,"mag":17.86},{"sn":"d","wl":4439,"mag":17.90},{"sn":"d","wl":4450,"mag":17.86},{"sn":"d","wl":4461,"mag":17.83},{"sn":"d","wl":4472,"mag":17.80},{"sn":"d","wl":4483,"mag":17.76},{"sn":"d","wl":4494,"mag":17.70},{"sn":"d","wl":4505,"mag":17.60},{"sn":"d","wl":4515,"mag":17.50},{"sn":"d","wl":4526,"mag":17.42},{"sn":"d","wl":4540,"mag":17.30},{"sn":"d","wl":4554,"mag":17.23},{"sn":"d","wl":4568,"mag":17.12},{"sn":"d","wl":4581,"mag":17.08},{"sn":"d","wl":4600,"mag":17.05},{"sn":"d","wl":4619,"mag":17.04},{"sn":"d","wl":4640,"mag":17.03},{"sn":"d","wl":4658,"mag":17.03},{"sn":"d","wl":4675,"mag":17.05},{"sn":"d","wl":4690,"mag":17.08},{"sn":"d","wl":4701,"mag":17.12},{"sn":"d","wl":4712,"mag":17.18},{"sn":"d","wl":4728,"mag":17.30},{"sn":"d","wl":4745,"mag":17.42},{"sn":"d","wl":4765,"mag":17.55},{"sn":"d","wl":4784,"mag":17.65},{"sn":"d","wl":4798,"mag":17.76},{"sn":"d","wl":4811,"mag":17.84},{"sn":"d","wl":4825,"mag":17.83},{"sn":"d","wl":4839,"mag":17.81},{"sn":"d","wl":4850,"mag":17.77},{"sn":"d","wl":4860,"mag":17.71},{"sn":"d","wl":4868,"mag":17.58},{"sn":"d","wl":4877,"mag":17.45},{"sn":"d","wl":4885,"mag":17.36},{"sn":"d","wl":4893,"mag":17.29},{"sn":"d","wl":4912,"mag":17.22},{"sn":"d","wl":4932,"mag":17.18},{"sn":"d","wl":4950,"mag":17.10},{"sn":"d","wl":4964,"mag":17.03},{"sn":"d","wl":4975,"mag":17.02},{"sn":"d","wl":4986,"mag":17.06},{"sn":"d","wl":4997,"mag":17.14},{"sn":"d","wl":5008,"mag":17.24},{"sn":"d","wl":5019,"mag":17.35},{"sn":"d","wl":5030,"mag":17.45},{"sn":"d","wl":5044,"mag":17.52},{"sn":"d","wl":5058,"mag":17.57},{"sn":"d","wl":5072,"mag":17.50},{"sn":"d","wl":5085,"mag":17.45},{"sn":"d","wl":5098,"mag":17.40},{"sn":"d","wl":5112,"mag":17.34},{"sn":"d","wl":5126,"mag":17.31},{"sn":"d","wl":5140,"mag":17.29},{"sn":"d","wl":5160,"mag":17.28},{"sn":"d","wl":5178,"mag":17.26},{"sn":"d","wl":5200,"mag":17.22},{"sn":"d","wl":5222,"mag":17.18},{"sn":"d","wl":5238,"mag":17.12},{"sn":"d","wl":5255,"mag":17.06},{"sn":"d","wl":5275,"mag":16.95},{"sn":"d","wl":5293,"mag":16.84},{"sn":"d","wl":5312,"mag":16.83},{"sn":"d","wl":5332,"mag":16.82},{"sn":"d","wl":5360,"mag":16.80},{"sn":"d","wl":5386,"mag":16.79},{"sn":"d","wl":5413,"mag":16.79},{"sn":"d","wl":5441,"mag":16.78},{"sn":"d","wl":5468,"mag":16.80},{"sn":"d","wl":5496,"mag":16.79},{"sn":"d","wl":5523,"mag":16.81},{"sn":"d","wl":5551,"mag":16.82},{"sn":"d","wl":5578,"mag":16.85},{"sn":"d","wl":5593,"mag":16.90},{"sn":"d","wl":5606,"mag":16.97},{"sn":"d","wl":5620,"mag":17.06},{"sn":"d","wl":5633,"mag":17.18},{"sn":"d","wl":5647,"mag":17.30},{"sn":"d","wl":5660,"mag":17.41},{"sn":"d","wl":5671,"mag":17.53},{"sn":"d","wl":5682,"mag":17.65},{"sn":"d","wl":5693,"mag":17.72},{"sn":"d","wl":5699,"mag":17.71},{"sn":"d","wl":5710,"mag":17.58},{"sn":"d","wl":5721,"mag":17.44},{"sn":"d","wl":5732,"mag":17.30},{"sn":"d","wl":5743,"mag":17.18},{"sn":"d","wl":5757,"mag":17.04},{"sn":"d","wl":5770,"mag":16.92},{"sn":"d","wl":5784,"mag":16.83},{"sn":"d","wl":5797,"mag":16.76},{"sn":"d","wl":5811,"mag":16.72},{"sn":"d","wl":5825,"mag":16.69},{"sn":"d","wl":5844,"mag":16.67},{"sn":"d","wl":5863,"mag":16.68},{"sn":"d","wl":5880,"mag":16.70},{"sn":"d","wl":5896,"mag":16.73},{"sn":"d","wl":5910,"mag":16.76},{"sn":"d","wl":5923,"mag":16.79},{"sn":"d","wl":5940,"mag":16.82},{"sn":"d","wl":5956,"mag":16.85},{"sn":"d","wl":5972,"mag":16.86},{"sn":"d","wl":5989,"mag":16.87},{"sn":"d","wl":6005,"mag":16.90},{"sn":"d","wl":6022,"mag":16.92},{"sn":"d","wl":6033,"mag":16.89},{"sn":"d","wl":6044,"mag":16.90},{"sn":"d","wl":6055,"mag":16.93},{"sn":"d","wl":6066,"mag":16.95},{"sn":"d","wl":6082,"mag":16.99},{"sn":"d","wl":6099,"mag":17.03},{"sn":"d","wl":6112,"mag":17.05},{"sn":"d","wl":6126,"mag":17.08},{"sn":"d","wl":6140,"mag":17.12},{"sn":"d","wl":6153,"mag":17.15},{"sn":"d","wl":6167,"mag":17.17},{"sn":"d","wl":6181,"mag":17.19},{"sn":"d","wl":6195,"mag":17.20},{"sn":"d","wl":6208,"mag":17.18},{"sn":"d","wl":6220,"mag":17.14},{"sn":"d","wl":6230,"mag":17.12},{"sn":"d","wl":6244,"mag":17.08},{"sn":"d","wl":6258,"mag":17.06},{"sn":"d","wl":6274,"mag":17.08},{"sn":"d","wl":6290,"mag":17.08},{"sn":"d","wl":6305,"mag":17.04},{"sn":"d","wl":6318,"mag":17.02},{"sn":"d","wl":6334,"mag":17.06},{"sn":"d","wl":6351,"mag":17.05},{"sn":"d","wl":6365,"mag":17.09},{"sn":"d","wl":6378,"mag":17.11},{"sn":"d","wl":6392,"mag":17.10},{"sn":"d","wl":6405,"mag":17.13},{"sn":"d","wl":6416,"mag":17.17},{"sn":"d","wl":6427,"mag":17.21},{"sn":"d","wl":6441,"mag":17.27},{"sn":"d","wl":6455,"mag":17.32},{"sn":"d","wl":6466,"mag":17.35},{"sn":"d","wl":6477,"mag":17.37},{"sn":"d","wl":6488,"mag":17.36},{"sn":"d","wl":6499,"mag":17.34},{"sn":"d","wl":6510,"mag":17.28},{"sn":"d","wl":6521,"mag":17.21},{"sn":"d","wl":6532,"mag":17.14},{"sn":"d","wl":6542,"mag":17.08},{"sn":"d","wl":6553,"mag":17.00},{"sn":"d","wl":6564,"mag":16.93}
    ],
    "labels": [
      {"text":"Fe II","wl":4323,"mag":9.69},{"text":"S II","wl":5353,"mag":9.69},
      {"text":"Ca II","wl":3775,"mag":10.29},{"text":"Fe II","wl":4888,"mag":10.26},
      {"text":"Fe III","wl":4882,"mag":10.72},{"text":"Si II","wl":4022,"mag":10.87},
      {"text":"Si II","wl":5732,"mag":10.96},{"text":"Si II","wl":4882,"mag":11.19},
      {"text":"Co II","wl":3228,"mag":10.98},{"text":"Fe II","wl":3228,"mag":11.46},
      {"text":"O I","wl":7430,"mag":10.37},{"text":"Mg II","wl":7430,"mag":10.83},
      {"text":"Ca II","wl":8318,"mag":10.66},
      {"text":"Hγ","wl":4192,"mag":14.27},{"text":"Hβ","wl":4707,"mag":14.27},
      {"text":"Ca II","wl":8323,"mag":13.37},
      {"text":"Na I","wl":5688,"mag":15.87},{"text":"Fe II","wl":4866,"mag":16.32},
      {"text":"Si II","wl":6142,"mag":16.27},{"text":"O I","wl":7501,"mag":16.16},
      {"text":"Ca II","wl":8290,"mag":16.36},
      {"text":"Fe II","wl":4959,"mag":18.27},{"text":"Fe II","wl":4449,"mag":18.85},
      {"text":"Ca II","wl":3814,"mag":20.11}
    ],
    "panels": [
      {"sn":"a","x1":2789,"x2":9348,"y1":8.05,"y2":10.79},
      {"sn":"b","x1":3414,"x2":9002,"y1":10.92,"y2":14.59},
      {"sn":"c","x1":3967,"x2":9156,"y1":14.77,"y2":16.38},
      {"sn":"d","x1":3069,"x2":6811,"y1":16.61,"y2":20.64}
    ],
    "lines": [
      {"ion":"He I","wl":5693,"top":8.08,"bottom":17.81},
      {"ion":"Hα","wl":6214,"top":8.08,"bottom":18.49},
      {"ion":"Si II","wl":6088,"top":8.08,"bottom":18.49},
      {"ion":"He I","wl":5715,"top":21.55,"bottom":22},
      {"ion":"Hα","wl":6290,"top":21.55,"bottom":22},
      {"ion":"Si II","wl":6142,"top":21.55,"bottom":22}
    ],
    "tagBoxes": [
      {"ion":"Si II","x1":5841,"x2":6488,"y1":9.98,"y2":10.61,"wl":6121,"mag":10.32},
      {"ion":"Hα","x1":6038,"x2":6449,"y1":13.36,"y2":14.03,"wl":6241,"mag":13.69},
      {"ion":"He I","x1":5403,"x2":5978,"y1":17.81,"y2":18.36,"wl":5688,"mag":18.08}
    ],
    "tableBox": [{"x1":5463,"x2":9616,"y1":18.47,"y2":21.55}],
    "rows": [
      {"sn":"a","name":"(a) \u00a0SN \u00a01987N","kind":"(Ia)","age":"t \u00a0~ \u00a01 \u00a0week","y1":18.49,"y2":19.28,"mid":19.0},
      {"sn":"b","name":"(b) \u00a0SN \u00a01987A","kind":"(II),","age":"τ \u00a0~ \u00a01 \u00a0week","y1":19.31,"y2":20.04,"mid":19.7},
      {"sn":"c","name":"(c) \u00a0SN \u00a01987M","kind":"(Ic)","age":"t \u00a0~ \u00a01 \u00a0week","y1":20.09,"y2":20.76,"mid":20.41},
      {"sn":"d","name":"(d) \u00a0SN \u00a01984L","kind":"(Ib)","age":"t \u00a0~ \u00a01 \u00a0week","y1":20.78,"y2":21.53,"mid":21.11}
    ],
    "cells": [
      {"sn":"all","x1":7331,"x2":7825,"y1":18.53,"y2":21.49},
      {"sn":"b","x1":7309,"x2":7819,"y1":19.35,"y2":19.99}
    ],
    "tags": [
      {"sn":"a","text":"(a)","x1":9441,"x2":9994,"y1":8.90,"y2":10.03,"wl":9690,"mag":9.49},
      {"sn":"b","text":"(b)","x1":9441,"x2":9994,"y1":11.28,"y2":12.26,"wl":9690,"mag":11.76},
      {"sn":"c","text":"(c)","x1":9424,"x2":9939,"y1":13.95,"y2":15.03,"wl":9680,"mag":14.55},
      {"sn":"d","text":"(d)","x1":9408,"x2":10038,"y1":16.63,"y2":17.60,"wl":9715,"mag":17.16}
    ],
    "classes": [
      {"text":"Ia: silicon but no hydrogen","wl":10509,"mag":9.71},
      {"text":"II: hydrogen","wl":10509,"mag":12.62},
      {"text":"Ic: neither silicon nor helium","wl":10509,"mag":15.49},
      {"text":"Ib: helium but no silicon","wl":10509,"mag":18.41}
    ]
  },
  "layer": [
    {
      "data": {"name": "spectra"},
      "mark": {"type": "line", "color": "#000000", "strokeWidth": 3.8, "strokeJoin": "round"},
      "encoding": {
        "x": {"field": "wl", "type": "quantitative",
          "scale": {"domain": [2700, 10370], "nice": false, "zero": false},
          "axis": {"orient": "bottom", "values": [3000,3500,4000,4500,5000,5500,6000,6500,7000,7500,8000,8500,9000,9500,10000], "tickSize": -25, "labels": false, "title": null}},
        "y": {"field": "mag", "type": "quantitative",
          "scale": {"domain": [8, 22], "nice": false, "zero": false, "reverse": true},
          "axis": {"orient": "left", "values": [9,10,11,12,13,14,15,16,17,18,19,20,21], "tickSize": -25, "labels": false, "title": null}},
        "detail": {"field": "sn", "type": "nominal"}
      }
    },
    {
      "data": {"name": "labels"},
      "mark": {"type": "text", "font": "Liberation Serif", "fontWeight": "bold", "fontSize": 42, "align": "center", "baseline": "middle", "color": "#000000"},
      "encoding": {
        "x": {"field": "wl", "type": "quantitative",
          "axis": {"orient": "top", "values": [3000,3500,4000,4500,5000,5500,6000,6500,7000,7500,8000,8500,9000,9500,10000], "tickSize": -25, "labels": false, "title": null}},
        "y": {"field": "mag", "type": "quantitative",
          "axis": {"orient": "right", "values": [9,10,11,12,13,14,15,16,17,18,19,20,21], "tickSize": -25, "labels": false, "title": null}},
        "text": {"field": "text", "type": "nominal"}
      }
    },
    {
      "data": {"name": "panels"},
      "mark": {"type": "rect", "filled": false, "strokeWidth": 10},
      "encoding": {
        "x": {"field": "x1", "type": "quantitative",
          "axis": {"orient": "bottom", "values": [4000,6000,8000,10000], "tickSize": -50, "labels": false, "title": null}},
        "x2": {"field": "x2"},
        "y": {"field": "y1", "type": "quantitative",
          "axis": {"orient": "left", "values": [10,15,20], "tickSize": -49, "labels": false, "title": null}},
        "y2": {"field": "y2"},
        "stroke": {"field": "sn", "type": "nominal", "scale": {"domain": ["a","b","c","d"], "range": ["#0a2cff","#ff2400","#0a2cff","#0a2cff"]}, "legend": null}
      }
    },
    {
      "data": {"name": "lines"},
      "transform": [{"filter": "datum.ion !== 'Si II'"}],
      "mark": {"type": "rule", "strokeWidth": 3},
      "encoding": {
        "x": {"field": "wl", "type": "quantitative",
          "axis": {"orient": "top", "values": [4000,6000,8000,10000], "tickSize": -50, "labels": false, "title": null}},
        "y": {"field": "top", "type": "quantitative",
          "axis": {"orient": "right", "values": [10,15,20], "tickSize": -49, "labels": false, "title": null}},
        "y2": {"field": "bottom"},
        "color": {"field": "ion", "type": "nominal", "scale": {"domain": ["He I","Hα"], "range": ["#b8386f","#20968f"]}, "legend": null}
      }
    },
    {
      "data": {"name": "lines"},
      "transform": [{"filter": "datum.ion === 'Si II'"}],
      "mark": {"type": "rule", "strokeWidth": 10, "color": "#e8833a"},
      "encoding": {
        "x": {"field": "wl", "type": "quantitative", "axis": null},
        "y": {"field": "top", "type": "quantitative", "axis": null},
        "y2": {"field": "bottom"}
      }
    },
    {
      "data": {"name": "tagBoxes"},
      "mark": {"type": "rect", "fill": "#ffffff", "strokeWidth": 4.5},
      "encoding": {
        "x": {"field": "x1", "type": "quantitative", "axis": null},
        "x2": {"field": "x2"},
        "y": {"field": "y1", "type": "quantitative", "axis": null},
        "y2": {"field": "y2"},
        "stroke": {"field": "ion", "type": "nominal", "scale": {"domain": ["He I","Si II","Hα"], "range": ["#b8386f","#e8833a","#20968f"]}, "legend": null}
      }
    },
    {
      "data": {"name": "tagBoxes"},
      "mark": {"type": "text", "font": "Liberation Serif", "fontWeight": "bold", "fontSize": 46, "align": "center", "baseline": "middle", "color": "#000000"},
      "encoding": {
        "x": {"field": "wl", "type": "quantitative", "axis": null},
        "y": {"field": "mag", "type": "quantitative", "axis": null},
        "text": {"field": "ion", "type": "nominal"}
      }
    },
    {
      "data": {"name": "tableBox"},
      "mark": {"type": "rect", "fill": "#ffffff"},
      "encoding": {
        "x": {"field": "x1", "type": "quantitative",
          "axis": {"orient": "bottom", "values": [4000,6000,8000,10000], "format": "d", "ticks": false, "labelPadding": 18, "labelFontSize": 56, "labelFlush": false, "labelOverlap": false, "title": "Rest Wavelength (Å)", "titleFontSize": 67, "titlePadding": 19}},
        "x2": {"field": "x2"},
        "y": {"field": "y1", "type": "quantitative",
          "axis": {"orient": "left", "values": [10,15,20], "format": "d", "ticks": false, "labelPadding": 30, "labelFontSize": 56, "labelFlush": false, "labelOverlap": false, "title": "−2.5 log fν + Constant", "titleFontSize": 68, "titlePadding": 18}},
        "y2": {"field": "y2"}
      }
    },
    {
      "data": {"name": "rows"},
      "mark": {"type": "rect", "filled": false, "strokeWidth": 2.5},
      "encoding": {
        "x": {"datum": 5474, "type": "quantitative", "axis": null},
        "x2": {"datum": 9605},
        "y": {"field": "y1", "type": "quantitative", "axis": null},
        "y2": {"field": "y2"},
        "stroke": {"field": "sn", "type": "nominal", "scale": {"domain": ["a","b","c","d"], "range": ["#0a2cff","#ff2400","#0a2cff","#0a2cff"]}, "legend": null}
      }
    },
    {
      "data": {"name": "cells"},
      "mark": {"type": "rect", "filled": false, "strokeWidth": 9},
      "encoding": {
        "x": {"field": "x1", "type": "quantitative", "axis": null},
        "x2": {"field": "x2"},
        "y": {"field": "y1", "type": "quantitative", "axis": null},
        "y2": {"field": "y2"},
        "stroke": {"field": "sn", "type": "nominal", "scale": {"domain": ["all","b"], "range": ["#0a2cff","#ff2400"]}, "legend": null}
      }
    },
    {
      "data": {"name": "rows"},
      "mark": {"type": "text", "font": "Liberation Serif", "fontWeight": "bold", "fontSize": 50, "align": "left", "baseline": "middle", "color": "#000000"},
      "encoding": {
        "x": {"datum": 5534, "type": "quantitative", "axis": null},
        "y": {"field": "mid", "type": "quantitative", "axis": null},
        "text": {"field": "name", "type": "nominal"}
      }
    },
    {
      "data": {"name": "rows"},
      "mark": {"type": "text", "font": "Liberation Serif", "fontWeight": "bold", "fontSize": 50, "align": "center", "baseline": "middle", "color": "#000000"},
      "encoding": {
        "x": {"datum": 7572, "type": "quantitative", "axis": null},
        "y": {"field": "mid", "type": "quantitative", "axis": null},
        "text": {"field": "kind", "type": "nominal"}
      }
    },
    {
      "data": {"name": "rows"},
      "mark": {"type": "text", "font": "Liberation Serif", "fontWeight": "bold", "fontSize": 52, "align": "left", "baseline": "middle", "color": "#000000"},
      "encoding": {
        "x": {"datum": 7960, "type": "quantitative", "axis": null},
        "y": {"field": "mid", "type": "quantitative", "axis": null},
        "text": {"field": "age", "type": "nominal"}
      }
    },
    {
      "data": {"name": "tags"},
      "mark": {"type": "rect", "filled": false, "strokeWidth": 10},
      "encoding": {
        "x": {"field": "x1", "type": "quantitative", "axis": null},
        "x2": {"field": "x2"},
        "y": {"field": "y1", "type": "quantitative", "axis": null},
        "y2": {"field": "y2"},
        "stroke": {"field": "sn", "type": "nominal", "scale": {"domain": ["a","b","c","d"], "range": ["#0a2cff","#ff2400","#0a2cff","#0a2cff"]}, "legend": null}
      }
    },
    {
      "data": {"name": "tags"},
      "mark": {"type": "text", "font": "Liberation Serif", "fontWeight": "bold", "fontSize": 54, "align": "center", "baseline": "middle", "color": "#000000"},
      "encoding": {
        "x": {"field": "wl", "type": "quantitative", "axis": null},
        "y": {"field": "mag", "type": "quantitative", "axis": null},
        "text": {"field": "text", "type": "nominal"}
      }
    },
    {
      "data": {"name": "classes"},
      "mark": {"type": "text", "font": "Liberation Serif", "fontSize": 70, "align": "left", "baseline": "alphabetic", "color": "#000000"},
      "encoding": {
        "x": {"field": "wl", "type": "quantitative", "axis": null},
        "y": {"field": "mag", "type": "quantitative", "axis": null},
        "text": {"field": "text", "type": "nominal"}
      }
    }
  ]
}
